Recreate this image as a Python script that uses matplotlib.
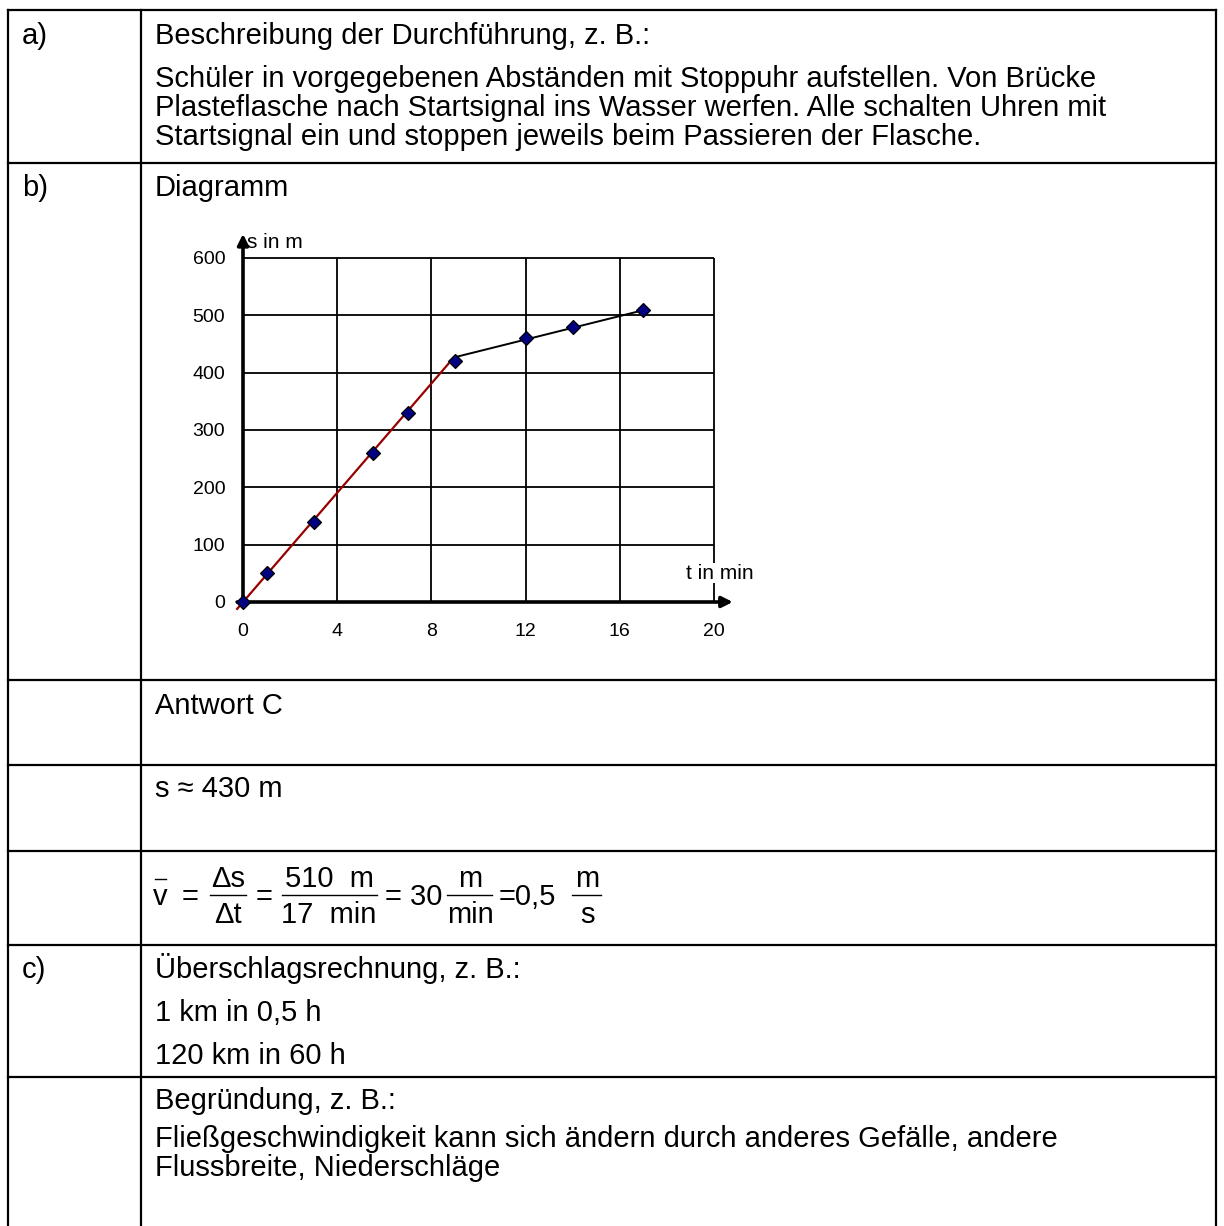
import numpy as np
import matplotlib.pyplot as plt

plt.rcParams['font.family'] = ['Liberation Sans', 'DejaVu Sans']

# measured points (t in min, s in m)
t = [0, 1, 3, 5.5, 7, 9, 12, 14, 17]
s = [0, 50, 140, 260, 330, 420, 460, 480, 510]

# hand drawn straight lines
fit1_t = [-0.25, 8.9]
fit1_s = [-12, 424]
fit2_t = [9, 17]
fit2_s = [427, 509]

x_ticks = [0, 4, 8, 12, 16, 20]
y_ticks = [0, 100, 200, 300, 400, 500, 600]

# table layout in pixels
row_lines = [10, 163, 680, 765, 851, 945, 1077]
col_lines = [8, 141, 1216]

labels = [("a)", 44), ("b)", 196), ("c)", 978)]
body = [
    ("Beschreibung der Durchführung, z. B.:", 44),
    ("Schüler in vorgegebenen Abständen mit Stoppuhr aufstellen. Von Brücke", 87),
    ("Plasteflasche nach Startsignal ins Wasser werfen. Alle schalten Uhren mit", 116),
    ("Startsignal ein und stoppen jeweils beim Passieren der Flasche.", 145),
    ("Diagramm", 196),
    ("Antwort C", 714),
    ("s \u2248 430 m", 797),
    ("Überschlagsrechnung, z. B.:", 978),
    ("1 km in 0,5 h", 1021),
    ("120 km in 60 h", 1064),
    ("Begründung, z. B.:", 1109),
    ("Fließgeschwindigkeit kann sich ändern durch anderes Gefälle, andere", 1147),
    ("Flussbreite, Niederschläge", 1176),
]

# formula pieces: (numerator, denominator, x centre, bar start, bar end)
frac_parts = [("\u0394s", "\u0394t", 228, 210, 246),
              ("510  m", "17  min", 329, 282, 377),
              ("m", "min", 470, 447, 492),
              ("m", "s", 587, 572, 601)]
inline_parts = [("v", 160), ("=", 190), ("=", 264), ("= 30", 414),
                ("=0,5", 527)]

W, H = 1224, 1226
fig = plt.figure(figsize=(12.24, 12.26), dpi=100)
bg = fig.add_axes([0, 0, 1, 1])
bg.set_xlim(0, W)
bg.set_ylim(H, 0)
bg.axis('off')

for y in row_lines:
    bg.plot([col_lines[0], col_lines[-1]], [y, y], color='black', lw=1.6)
for x in col_lines:
    bg.plot([x, x], [row_lines[0], H], color='black', lw=1.6)

fs = 21
for txt, y in labels:
    bg.text(22, y, txt, fontsize=fs, va='baseline', ha='left')
for txt, y in body:
    bg.text(155, y, txt, fontsize=fs, va='baseline', ha='left')

# formula
bar_y = 895
for num, den, xc, x0, x1 in frac_parts:
    bg.text(xc, bar_y - 8, num, fontsize=fs, va='baseline', ha='center')
    bg.text(xc, bar_y + 28, den, fontsize=fs, va='baseline', ha='center')
    bg.plot([x0, x1], [bar_y, bar_y], color='black', lw=1.0)
for txt, xc in inline_parts:
    bg.text(xc, bar_y + 10, txt, fontsize=fs, va='baseline', ha='center')
bg.plot([155, 166], [879, 879], color='black', lw=1.0)

# chart: x 0..20 -> px 243..714, y 0..600 -> px 602..258
px_x = (714 - 243) / 20
px_y = (602 - 258) / 600
xlo, xhi = -0.64, 22
ylo, yhi = -31, 660
left = (243 + xlo * px_x) / W
right = (243 + xhi * px_x) / W
bottom = 1 - (602 - ylo * px_y) / H
top = 1 - (602 - yhi * px_y) / H
ax = fig.add_axes([left, bottom, right - left, top - bottom])
ax.set_xlim(xlo, xhi)
ax.set_ylim(ylo, yhi)
ax.patch.set_alpha(0)
for sp in ax.spines.values():
    sp.set_visible(False)

ax.vlines(x_ticks[1:], 0, 600, color='black', lw=1.3, zorder=1)
ax.hlines(y_ticks[1:], 0, 20, color='black', lw=1.3, zorder=1)

ax.annotate('', xy=(0, 642), xytext=(0, -6),
            arrowprops=dict(arrowstyle='-|>', color='black', lw=2.6,
                            mutation_scale=16, shrinkA=0, shrinkB=0), zorder=3)
ax.annotate('', xy=(20.8, 0), xytext=(-0.25, 0),
            arrowprops=dict(arrowstyle='-|>', color='black', lw=2.6,
                            mutation_scale=16, shrinkA=0, shrinkB=0), zorder=3)

ax.plot(fit1_t, fit1_s, color='#990000', lw=1.6, zorder=4)
ax.plot(fit2_t, fit2_s, color='black', lw=1.4, zorder=4)
ax.plot(t, s, linestyle='none', marker='D', markersize=7.5,
        markerfacecolor='#000080', markeredgecolor='black', markeredgewidth=0.9, zorder=5)

ax.text(0.15, 627, 's in m', fontsize=15, va='center', ha='left', zorder=6)
ax.text(20.25, 50, 't in min', fontsize=15, va='center', ha='center', zorder=6,
        bbox=dict(facecolor='white', edgecolor='none', pad=0.3))

ax.set_xticks(x_ticks)
ax.set_yticks(y_ticks)
ax.tick_params(length=0, labelsize=14, pad=2)

fig.savefig('out.png', dpi=100)
